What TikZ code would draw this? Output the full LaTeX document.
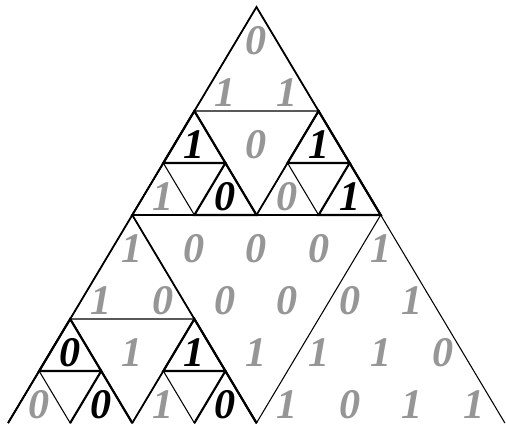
\documentclass[tikz,border=0pt]{standalone}
\usepackage{fontspec}
\setmainfont{Liberation Serif}
\definecolor{fadegray}{RGB}{150,150,150}

\begin{document}
\begin{tikzpicture}[x=1.242cm, y=1.04cm, line join=miter,
    cut/.style={draw, line width=0.6pt},
    frame/.style={draw, line width=1pt},
    cell/.style={draw, line width=1.2pt},
    digit/.style={inner sep=0pt, font=\fontsize{24}{24}\selectfont\bfseries\itshape},
    faded/.style={digit, text=fadegray},
    marked/.style={digit, text=black}]
  \useasboundingbox (-4.13,0.1346) rectangle (4.018,-8);
  % lattice points, row k from the top, j from the left
  \foreach \k in {0,...,8}
    \foreach \j in {0,...,\k}
      \coordinate (p\k\j) at ({\j-\k/2},{-\k});

  % outline and first cut (no base line)
  \draw[cut] (p80) -- (p00) -- (p88);
  \draw[cut] (p40) -- (p44) -- (p84) -- cycle;
  % top part
  \draw[cut] (p20) -- (p22) -- (p42) -- cycle;
  \draw[cut] (p30) -- (p31) -- (p41) -- cycle;
  \draw[cut] (p32) -- (p33) -- (p43) -- cycle;
  % lower left part
  \draw[cut] (p60) -- (p62) -- (p82) -- cycle;
  \draw[cut] (p70) -- (p71) -- (p81) -- cycle;
  \draw[cut] (p72) -- (p73) -- (p83) -- cycle;

  % triangles that were cut again get a heavier rim
  \foreach \a/\b/\c in {00/40/44, 20/40/42, 22/42/44}
    \draw[frame] (p\a) -- (p\b) -- (p\c) -- cycle;
  \foreach \a/\b/\c in {40/80/84, 60/80/82, 62/82/84}
    \draw[frame] (p\b) -- (p\a) -- (p\c);

  % cells with black digits
  \foreach \k/\j in {2/0,3/1,2/2,3/3,6/0,6/2} {
    \pgfmathtruncatemacro\kk{\k+1}
    \pgfmathtruncatemacro\jj{\j+1}
    \draw[cell] (p\k\j) -- (p\kk\j) -- (p\kk\jj) -- cycle;
  }
  \foreach \j in {1,3} {
    \pgfmathtruncatemacro\jj{\j+1}
    \draw[cell] (p8\j) -- (p7\j) -- (p8\jj);
  }

  % digits, one row at a time
  \foreach \k/\row in {
      0/{faded/0},
      1/{faded/1,faded/1},
      2/{marked/1,faded/0,marked/1},
      3/{faded/1,marked/0,faded/0,marked/1},
      4/{faded/1,faded/0,faded/0,faded/0,faded/1},
      5/{faded/1,faded/0,faded/0,faded/0,faded/0,faded/1},
      6/{marked/0,faded/1,marked/1,faded/1,faded/1,faded/1,faded/0},
      7/{faded/0,marked/0,faded/1,marked/0,faded/1,faded/0,faded/1,faded/1}}
    \foreach \c/\v [count=\j from 0] in \row
      \node[\c] (n\k\j) at ({\j-\k/2},{-\k-0.65}) {\v};
\end{tikzpicture}
\end{document}
